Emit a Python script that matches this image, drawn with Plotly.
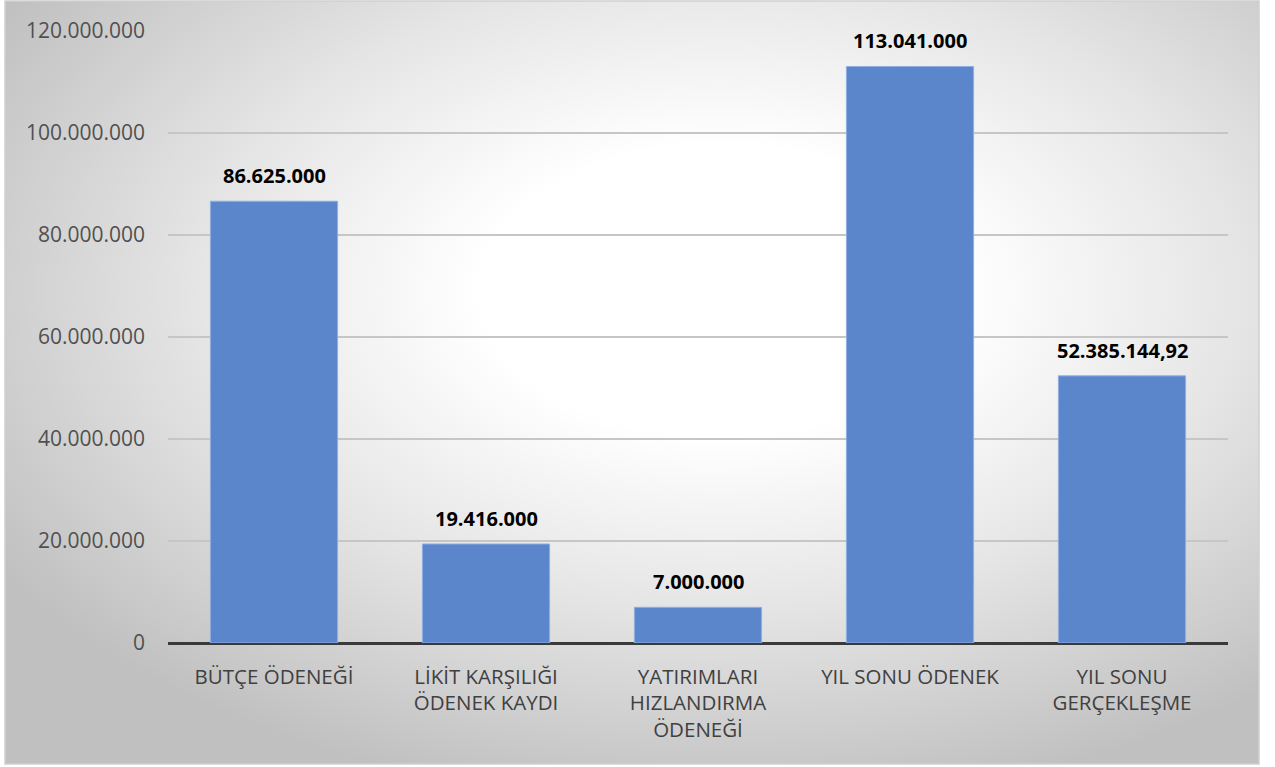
import plotly.graph_objects as go
import urllib.parse

categories = ["BÜTÇE ÖDENEĞİ", "LİKİT KARŞILIĞI<br>ÖDENEK KAYDI", "YATIRIMLARI<br>HIZLANDIRMA<br>ÖDENEĞİ",
              "YIL SONU ÖDENEK", "YIL SONU<br>GERÇEKLEŞME"]
values = [86625000, 19416000, 7000000, 113041000, 52385144.92]
value_labels = ["86.625.000", "19.416.000", "7.000.000", "113.041.000", "52.385.144,92"]
tick_vals = [0, 20000000, 40000000, 60000000, 80000000, 100000000, 120000000]
tick_text = ["0", "20.000.000", "40.000.000", "60.000.000", "80.000.000", "100.000.000", "120.000.000"]

W, H = 1275, 767
L, R, T, B = 168, 1228, 31, 643
FX0, FX1, FY0, FY1 = 5, 1259, 1, 764

def px(x):
    return (x - L) / (R - L)

def py(y):
    return (B - y) / (B - T)

svg = ("<svg xmlns='http://www.w3.org/2000/svg' width='1254' height='763' preserveAspectRatio='none'>"
       "<defs><radialGradient id='g' cx='57%' cy='38%' r='68%'>"
       "<stop offset='0' stop-color='#ffffff'/>"
       "<stop offset='0.28' stop-color='#ffffff'/>"
       "<stop offset='0.6' stop-color='#e6e6e6'/>"
       "<stop offset='1' stop-color='#c0c0c0'/>"
       "</radialGradient></defs>"
       "<rect width='1254' height='763' fill='url(#g)'/></svg>")
src = "data:image/svg+xml;charset=utf-8," + urllib.parse.quote(svg)

font_family = "Open Sans, sans-serif"

fig = go.Figure()
fig.add_trace(go.Bar(
    x=categories, y=values,
    marker=dict(color="#5b86cc", line=dict(color="#8fb0e3", width=1)),
    width=0.6,
    hoverinfo="skip",
))

annotations = []
for c, v, t in zip(categories, values, value_labels):
    annotations.append(dict(x=c, y=v, text="<b>" + t + "</b>", showarrow=False,
                            yanchor="bottom", yshift=10,
                            font=dict(family=font_family, size=20, color="#000000")))

fig.update_layout(
    width=W, height=H,
    margin=dict(l=L, r=W - R, t=T, b=H - B, pad=0),
    paper_bgcolor="#ffffff",
    plot_bgcolor="rgba(0,0,0,0)",
    showlegend=False,
    annotations=annotations,
    images=[dict(source=src, xref="paper", yref="paper",
                 x=px(FX0), y=py(FY0), sizex=px(FX1) - px(FX0), sizey=py(FY0) - py(FY1),
                 xanchor="left", yanchor="top", sizing="stretch", layer="below")],
    shapes=[dict(type="rect", xref="paper", yref="paper",
                 x0=px(FX0), x1=px(FX1), y0=py(FY1), y1=py(FY0),
                 line=dict(color="#cfcfcf", width=1.5), fillcolor="rgba(0,0,0,0)", layer="below")],
    xaxis=dict(showgrid=False, showline=False, zeroline=False, ticks="",
               tickfont=dict(family=font_family, size=20.5, color="#404040"),
               ticklabelstandoff=19),
    yaxis=dict(range=[0, 120000000], tickvals=tick_vals, ticktext=tick_text,
               showgrid=True, gridcolor="#c6c6c6", gridwidth=1.5,
               zeroline=True, zerolinecolor="#3a3a3a", zerolinewidth=3,
               showline=False, ticks="", ticklabelstandoff=22,
               tickfont=dict(family=font_family, size=21, color="#505050")),
    bargap=0.4,
)

fig.write_html("out.html", config={"displayModeBar": False},
               post_script="document.body.style.margin='0';")
